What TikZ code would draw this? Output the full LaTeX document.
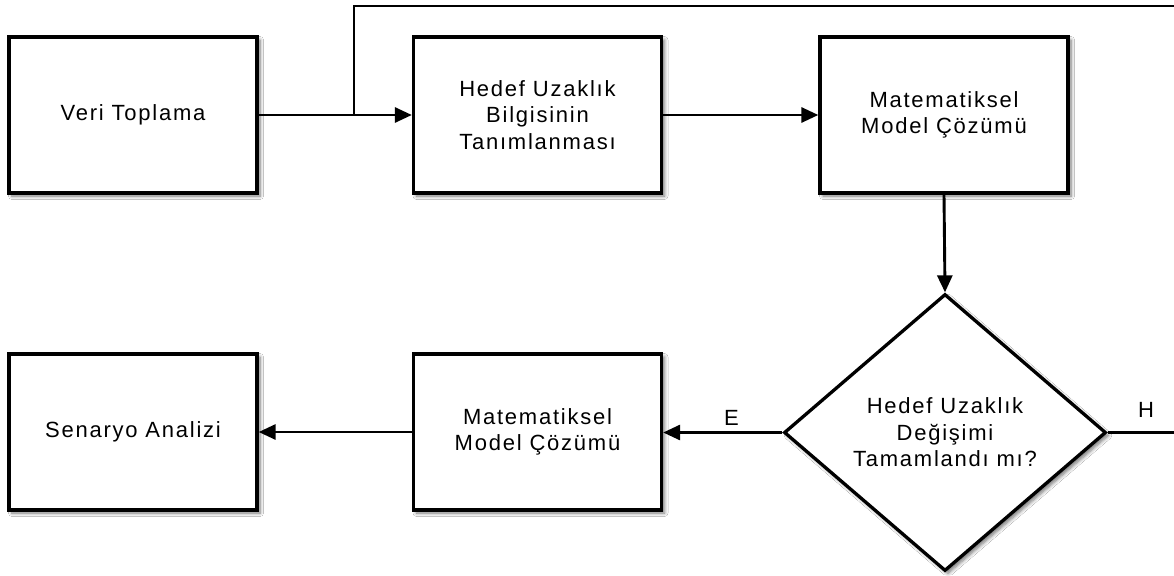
\documentclass[tikz,border=0pt]{standalone}
\usepackage{fontspec}
\setmainfont{Liberation Sans}[LetterSpace=8]
\usetikzlibrary{arrows.meta,shapes.geometric,shadows.blur}
\newcommand\dfont{\fontsize{22pt}{26.5pt}\selectfont}
\begin{document}
\begin{tikzpicture}[x=1pt,y=-1pt,
  shd/.style={blur shadow={shadow xshift=3pt, shadow yshift=-3pt, shadow blur radius=3.5pt, shadow blur steps=6, shadow opacity=55}},
  box/.style={draw, line width=3.3pt, fill=white, minimum width=248pt, minimum height=156pt, align=center, font=\dfont, inner sep=0pt, shd},
  dec/.style={draw, diamond, line width=3.3pt, fill=white, minimum width=322pt, minimum height=277pt, aspect=1.16, align=center, font=\dfont, inner sep=0pt, shd},
  arr/.style={line width=2.9pt, -{Triangle[length=17pt,width=15pt]}},
  ln/.style={line width=2.9pt},
  lbl/.style={font=\dfont, inner sep=0pt}]
\useasboundingbox (0,0) rectangle (1174,575);
\clip (0,0) rectangle (1174,575);
\fill[white] (0,0) rectangle (1174,575);
\node[box] (veri) at (133,115) {Veri Toplama};
\node[box] (hedef) at (537.5,115) {Hedef Uzaklık\\Bilgisinin\\Tanımlanması};
\node[box] (mat1) at (944,115) {Matematiksel\\Model Çözümü};
\node[dec] (karar) at (945,432.5) {Hedef Uzaklık\\Değişimi\\Tamamlandı mı?};
\node[box] (mat2) at (537.5,432) {Matematiksel\\Model Çözümü};
\node[box] (sen) at (133,432) {Senaryo Analizi};
\coordinate (j) at (354,115);
\coordinate (tl) at (354,6);
\coordinate (tr) at (1190,6);
\coordinate (hr) at (1190,432.5);
\draw[arr] (veri) -- (hedef);
\draw[arr] (hedef) -- (mat1);
\draw[arr] (mat1.south) -- (karar.north);
\draw[arr] (karar.west) -- (mat2.east |- karar.west);
\draw[arr] (mat2) -- (sen);
\draw[ln, line join=miter] (karar.east) -- (hr) -- (tr) -- (tl) -- (j);
\node[lbl, fill=white, inner xsep=2pt, inner ysep=5.5pt, anchor=south] (e) at (731.5,431.5) {E};
\node[lbl] (h) at (1146,410) {H};
\end{tikzpicture}
\end{document}
